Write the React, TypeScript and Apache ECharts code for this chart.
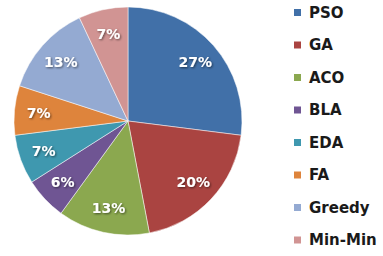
import React, { useEffect, useRef } from "react";
import * as echarts from "echarts";

const categories = ["PSO", "GA", "ACO", "BLA", "EDA", "FA", "Greedy", "Min-Min"];
const values = [27, 20, 13, 6, 7, 7, 13, 7];
const colors = ["#4170A8", "#AA4441", "#8BA84F", "#6F5593", "#3F98AF", "#DE843C", "#94AAD2", "#D19493"];

export default function App() {
  const ref = useRef<HTMLDivElement>(null);
  useEffect(() => {
    if (!ref.current) return;
    const chart = echarts.init(ref.current, null, { renderer: "svg" });
    const R = 114;
    const center = [128, 121];
    chart.setOption({
      animation: false,
      backgroundColor: "#ffffff",
      color: colors,
      legend: {
        data: categories.map((c, i) => ({ name: c, itemStyle: { color: colors[i] } })),
        orient: "vertical",
        left: 292,
        top: 5,
        height: 250,
        icon: "rect",
        itemWidth: 9,
        itemHeight: 9,
        itemGap: 17.5,
        padding: 0,
        textStyle: { fontFamily: "DejaVu Sans", fontWeight: "bold", fontSize: 15, lineHeight: 15, color: "#1a1a1a", padding: [0, 0, 0, 2] },
        selectedMode: false,
      },
      series: [
        {
          type: "pie",
          center,
          radius: R,
          startAngle: 90,
          clockwise: true,
          silent: true,
          label: { show: false },
          labelLine: { show: false },
          itemStyle: { borderColor: "#ffffff", borderWidth: 0.5 },
          data: categories.map((c, i) => ({ name: c, value: values[i], itemStyle: { color: colors[i] } })),
        },
        {
          type: "pie",
          center,
          radius: [R * 0.52, R],
          startAngle: 90,
          clockwise: true,
          silent: true,
          itemStyle: { color: "rgba(0,0,0,0)" },
          label: {
            show: true,
            position: "inside",
            formatter: "{c}%",
            fontFamily: "DejaVu Sans",
            fontWeight: "bold",
            fontSize: 14,
            color: "#ffffff",
            textShadowColor: "rgba(0,0,0,0.55)",
            textShadowBlur: 2,
            textShadowOffsetX: 1,
            textShadowOffsetY: 1,
          },
          labelLine: { show: false },
          data: categories.map((c, i) => ({ name: c, value: values[i], itemStyle: { color: "rgba(0,0,0,0)" } })),
        },
      ],
    });
    return () => chart.dispose();
  }, []);
  return (
    <div
      ref={ref}
      style={{ position: "fixed", left: 0, top: 0, width: 383, height: 256, background: "#fff" }}
    />
  );
}
